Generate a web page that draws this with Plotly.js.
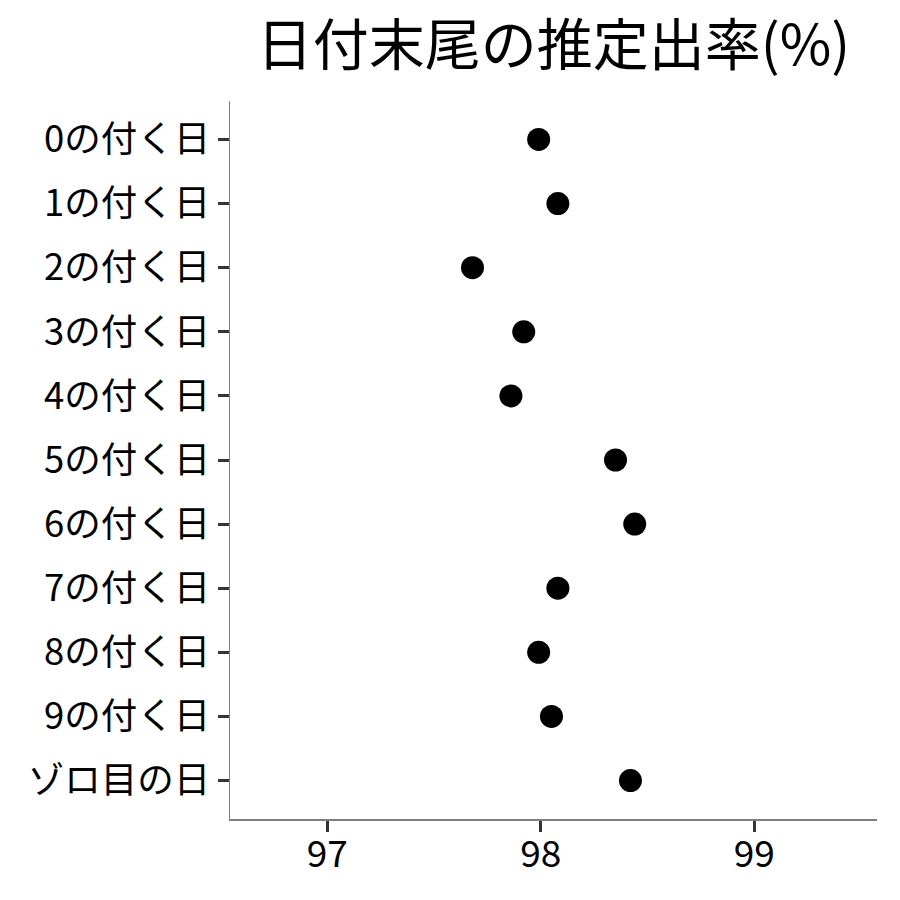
<!DOCTYPE html>
<html>
<head>
<meta charset="utf-8">
<script src="https://cdn.plot.ly/plotly-3.0.1.min.js"></script>
<style>html,body{margin:0;padding:0;background:#fff;}#chart{width:900px;height:900px;}</style>
</head>
<body>
<div id="chart"></div>
<script>
const categories = ["0の付く日","1の付く日","2の付く日","3の付く日","4の付く日","5の付く日","6の付く日","7の付く日","8の付く日","9の付く日","ゾロ目の日"];
const rates = [97.99, 98.08, 97.68, 97.92, 97.86, 98.35, 98.44, 98.08, 97.99, 98.05, 98.42];
const xTicks = [97, 98, 99];
const titleText = "日付末尾の推定出率(%)";

const FONT = '"Noto Sans CJK JP", "Noto Sans", sans-serif';

const trace = {
  type: 'scatter',
  mode: 'markers',
  x: rates,
  y: categories,
  marker: {color: '#000000', size: 23, line: {width: 0}},
  hoverinfo: 'x+y'
};

const layout = {
  width: 900, height: 900,
  paper_bgcolor: '#ffffff', plot_bgcolor: '#ffffff',
  margin: {l: 230, r: 23, t: 101, b: 81},
  showlegend: false,
  title: {
    text: titleText,
    font: {family: FONT, size: 56, color: '#000000'},
    x: 0.5, xref: 'paper', xanchor: 'center',
    y: 1 - 45/900, yref: 'container', yanchor: 'middle'
  },
  xaxis: {
    range: [96.544, 99.575],
    tickvals: xTicks,
    ticktext: xTicks.map(String),
    showgrid: false, zeroline: false,
    showline: true, linecolor: '#7f7f7f', linewidth: 1.5,
    ticks: 'outside', ticklen: 11, tickwidth: 3, tickcolor: '#333333',
    ticklabelstandoff: -9,
    tickfont: {family: FONT, size: 37, color: '#000000'},
    fixedrange: true
  },
  yaxis: {
    type: 'category',
    categoryorder: 'array',
    categoryarray: categories,
    autorange: false,
    range: [categories.length - 0.4, -0.6],
    showgrid: false, zeroline: false,
    showline: true, linecolor: '#7f7f7f', linewidth: 1.5,
    ticks: 'outside', ticklen: 11, tickwidth: 3, tickcolor: '#333333',
    ticklabelstandoff: 0,
    tickfont: {family: FONT, size: 36.5, color: '#000000'},
    fixedrange: true
  }
};

Plotly.newPlot('chart', [trace], layout, {displayModeBar: false, staticPlot: true});
</script>
</body>
</html>
